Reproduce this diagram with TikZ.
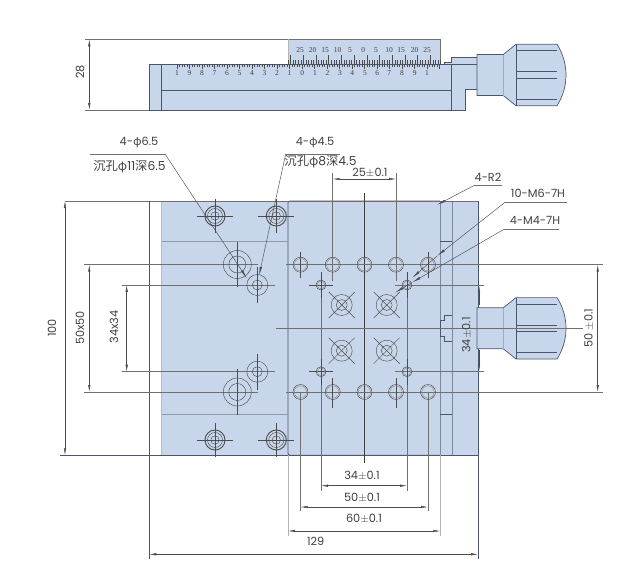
\documentclass[tikz,border=0pt]{standalone}
\usepackage{fontspec}
\setmainfont{Poppins}
\newfontfamily\cjk{Noto Sans CJK SC}
\newfontfamily\rulerfont{Liberation Serif}
\usepackage{xcolor}
\usepackage{tikz}
\usetikzlibrary{positioning,calc,arrows.meta}
\definecolor{platefill}{HTML}{C8D6EB}
\definecolor{edgeblue}{HTML}{4A566E}
\definecolor{dimgrey}{HTML}{6F6F6F}
\definecolor{labelgrey}{HTML}{404040}
\tikzset{
	plate/.style={fill=platefill, draw=edgeblue, line width=0.7pt},
	edge/.style={draw=edgeblue, line width=0.7pt},
	thin edge/.style={draw=edgeblue, line width=0.45pt},
	extline/.style={draw=dimgrey, line width=0.6pt},
	centreline/.style={draw=black!75, line width=0.5pt},
	holeline/.style={draw=black!70, line width=0.45pt},
	dimline/.style={draw=black!70, line width=0.45pt, {Latex[length=7pt,width=2.4pt]}-{Latex[length=7pt,width=2.4pt]}},
	leader/.style={draw=black!70, line width=0.45pt, -{Latex[length=9pt,width=2.4pt]}},
	shoulder/.style={draw=dimgrey, line width=0.6pt},
	dimtext/.style={text=labelgrey, font=\fontsize{11.3}{13}\selectfont, inner sep=0pt},
	cjktext/.style={text=labelgrey, font=\fontsize{12.3}{14}\selectfont, inner sep=0pt},
	rulertext/.style={text=labelgrey, font=\rulerfont\fontsize{7.5}{8}\selectfont, inner sep=0pt},
	knob/.pic={
		\draw[plate] (477,-20.5) -- (503.3,-20.5) -- (516,-30.7) -- (557,-30.7)
			.. controls (569,-12) and (569,12) .. (557,30.7)
			-- (516,30.7) -- (503.3,20.5) -- (477,20.5) -- cycle;
		\draw[thin edge] (516,-30.7) -- (516,30.7);
		\draw[thin edge, draw=edgeblue!50] (503.3,-20.5) -- (503.3,20.5);
		\foreach \yk in {-24.4,-3.3,3.3,24.4} {
			\draw[thin edge] (516,\yk) -- (557,\yk);
		}
	},
}
\newcommand{\cbore}[1]{
	\draw[holeline] ($(#1)+(-18,0)$) -- ($(#1)+(18,0)$);
	\draw[holeline] ($(#1)+(0,-17)$) -- ($(#1)+(0,17)$);
	\draw[holeline, line width=0.9pt] (#1) circle (10);
	\draw[holeline] (#1) circle (7.5);
	\draw[holeline] (#1) circle (4.2);
}
\newcommand{\crosshole}[1]{
	\draw[holeline] ($(#1)+(-13,-13)$) -- ($(#1)+(13,13)$);
	\draw[holeline] ($(#1)+(-13,13)$) -- ($(#1)+(13,-13)$);
	\draw[holeline] (#1) circle (10.5);
	\draw[holeline] (#1) circle (5.5);
}
\begin{document}
\begin{tikzpicture}[x=1pt,y=-1pt]
	\useasboundingbox (0,0) rectangle (630,576);

	% side view
	\fill[platefill] (288,39.3) rectangle (440.7,64);
	\draw[extline] (85,39.3) -- (440.7,39.3) -- (440.7,64);
	\draw[extline, draw=dimgrey!50] (288,39.3) -- (288,64);
	\draw[plate] (149.3,64) rectangle (452,110);
	\draw[extline] (85,110) -- (149.3,110);
	\draw[edge] (161.7,64) -- (161.7,110);
	\draw[edge] (161.7,90.3) -- (452,90.3);
	\foreach \n in {0,...,60} {
		\pgfmathsetmacro{\xt}{288+\n*2.54}
		\pgfmathsetmacro{\lt}{ifthenelse(mod(\n,5)==1,9,4)}
		\draw[holeline, line width=0.3pt] (\xt,64) -- (\xt,64-\lt);
	}
	\foreach \n in {0,...,105} {
		\pgfmathsetmacro{\xt}{177+\n*2.5}
		\pgfmathsetmacro{\lt}{ifthenelse(mod(\n,5)==0,4.5,2.5)}
		\draw[holeline, line width=0.3pt] (\xt,64) -- (\xt,64+\lt);
	}
	\foreach \xl/\tl in {300/25,312.7/20,325/15,337.6/10,350/5,363.3/0,376/5,389/10,401/15,414.5/20,427/25} {
		\node[rulertext] at (\xl,50.5) {\tl};
	}
	\foreach \xl/\tl in {177/1,189.5/9,202/8,214.5/7,227/6,239.5/5,252/4,264.5/3,277/2,289.5/1,302.3/0,315/1,327.5/2,340/3,352.3/4,365/5,377.3/6,389.3/7,402/8,414.7/9,427/1} {
		\node[rulertext] at (\xl,73.5) {\tl};
	}
	\draw[plate] (444,64) -- (444,62.3) -- (451.7,62.3) -- (451.7,57.3) -- (477,57.3) -- (477,89) -- (465,89) -- (465,110) -- (451.7,110) -- (451.7,64) -- cycle;
	\draw[thin edge] (451.7,64.3) -- (477,64.3);
	\pic at (0,75) {knob};
	\node[dimtext, rotate=90] (depth) at (80,72) {28};
	\draw[dimline] (89.3,39.3) -- (89.3,110);

	% top view
	\fill[platefill] (161.7,201) rectangle (478,455.3);
	\draw[edge, draw=edgeblue!40] (161.7,201) -- (161.7,455.3);
	\draw[edge] (478,201) -- (478,455.3);
	\draw[edge, line width=0.9pt, rounded corners=2pt] (440,201) -- (288,201) -- (288,455.3) -- (440,455.3);
	\draw[edge, draw=edgeblue!70] (440,201) -- (440,455.3);
	\draw[edge, draw=edgeblue!70] (452.3,201) -- (452.3,455.3);
	\draw[thin edge, draw=edgeblue!60] (161.7,241.7) -- (288,241.7);
	\draw[thin edge, draw=edgeblue!60] (161.7,414.7) -- (288,414.7);
	\draw[thin edge] (440,241) -- (452.3,241);
	\draw[thin edge] (440,414.5) -- (452.3,414.5);
	\draw[thin edge] (452.3,315) -- (444,315) -- (444,320) -- (440,320) -- (440,336) -- (444,336) -- (444,341) -- (452.3,341);
	\pic at (0,328.3) {knob};

	% datum and extension lines
	\draw[extline] (65,201) -- (478,201);
	\draw[edge] (60,455.3) -- (478,455.3);
	\draw[edge] (149.3,201) -- (149.3,559);
	\draw[edge] (478,455.3) -- (478,559);
	\draw[centreline] (364.5,193) -- (364.5,463);
	\draw[extline, line width=0.45pt] (276,328.3) -- (583,328.3);
	\foreach \yl in {264.7,392} {
		\draw[extline] (84,\yl) -- (258,\yl);
		\draw[extline] (286,\yl) -- (603,\yl);
	}
	\foreach \yl in {285,371.7} {
		\draw[extline] (121.7,\yl) -- (275,\yl);
		\draw[extline] (395,\yl) -- (484,\yl);
		\draw[holeline] (309,\yl) -- (333,\yl);
	}
	\draw[extline] (300.5,392) -- (300.5,511);
	\draw[extline] (428,392) -- (428,511);
	\draw[extline] (321,275) -- (321,491);
	\draw[extline] (407,275) -- (407,491);
	\draw[extline] (332.7,173) -- (332.7,281);
	\draw[extline] (396,173) -- (396,281);
	\draw[extline, draw=black!30, line width=1pt] (288,455.3) -- (288,536);
	\draw[extline, draw=black!30, line width=1pt] (440.3,455.3) -- (440.3,536);
	\draw[holeline] (300.5,252) -- (300.5,278);
	\draw[holeline] (428,252) -- (428,278);
	\draw[holeline] (332.7,378) -- (332.7,408);
	\draw[holeline] (396,378) -- (396,408);

	% holes
	\foreach \xh in {215,276.3} {
		\foreach \yh in {216,440} {
			\cbore{\xh,\yh}
		}
	}
	\foreach \yh/\yv in {264.5/241.7,392/414.7} {
		\draw[holeline] (237.3,\yv) -- (237.3,\yh);
		\draw[holeline] (237.3,\yh) -- (237.3,{2*\yh-\yv});
		\draw[holeline] (237.3,\yh) circle (14);
		\draw[holeline] (237.3,\yh) circle (8.5);
	}
	\foreach \yh in {285,371.7} {
		\draw[holeline] (257.3,\yh) circle (10.5);
		\draw[holeline] (257.3,\yh) circle (5);
		\draw[holeline] (257.3,{\yh-18}) -- (257.3,{\yh+18});
	}
	\foreach \xh in {300.5,332.7,364.5,396,428} {
		\foreach \yh in {264.7,392} {
			\draw[holeline] (\xh,\yh) circle (7.5);
			\draw[holeline, draw=black!45] (\xh,\yh) circle (6.2);
		}
	}
	\foreach \xh in {321,407} {
		\foreach \yh in {285,371.7} {
			\draw[holeline] (\xh,\yh) circle (5);
			\draw[holeline, draw=black!45] (\xh,\yh) circle (3.8);
			\draw[holeline] (\xh,{\yh-13}) -- (\xh,{\yh+13});
		}
	}
	\foreach \xh in {341.7,386.7} {
		\foreach \yh in {305,350.7} {
			\crosshole{\xh,\yh}
		}
	}

	% dimension labels
	\node[dimtext, rotate=90] (height) at (52,328) {100};
	\node[dimtext, rotate=90] (outer) at (80,328) {50x50};
	\node[dimtext, rotate=90] (inner) at (114,327) {34x34};
	\draw[dimline] (65,201) -- (65,455.3);
	\draw[dimline] (89.3,264.7) -- (89.3,392);
	\draw[dimline] (126.7,285) -- (126.7,371.7);
	\node[dimtext] (pitch) at (370,173) {25$\pm$0.1};
	\draw[dimline] (332.7,179) -- (396,179);
	\node[dimtext, rotate=90] (tapright) at (466.7,335) {34$\pm$0.1};
	\draw[dimline, {Latex[length=7pt,width=2.4pt]}-] (479,285) -- (479,305);
	\draw[dimline, -{Latex[length=7pt,width=2.4pt]}] (479,350) -- (479,371.7);
	\node[dimtext, rotate=90] (stroke) at (589,328) {50 $\pm$0.1};
	\draw[dimline] (597.7,264.7) -- (597.7,392);
	\node[dimtext] (tapa) at (362,476) {34$\pm$0.1};
	\draw[dimline] (321,485.7) -- (407,485.7);
	\node[dimtext] (tapb) at (362,498) {50$\pm$0.1};
	\draw[dimline] (300.5,507) -- (428,507);
	\node[dimtext] (tapc) at (364,519) {60$\pm$0.1};
	\draw[dimline] (288,531) -- (440.3,531);
	\node[dimtext] (width) at (315.7,541.7) {129};
	\draw[dimline] (149.3,554.3) -- (478,554.3);

	% leaders
	\node[dimtext] (cbig) at (139,142) {4-{\cjk φ}6.5};
	\node[cjktext] (cbigb) at (129.5,166.7) {{\cjk 沉孔φ}11{\cjk 深}6.5};
	\coordinate (cbigk) at (165,154);
	\coordinate (cbigt) at (247,278.5);
	\draw[shoulder] (90,154) -- (cbigk);
	\draw[leader] (cbigk) -- (cbigt);
	\node[dimtext] (csmall) at (315,143) {4-{\cjk φ}4.5};
	\node[cjktext] (csmallb) at (320.5,161.5) {{\cjk 沉孔φ}8{\cjk 深}4.5};
	\coordinate (csmallk) at (285.7,154);
	\coordinate (csmallt) at (259,275.7);
	\draw[shoulder] (csmallk) -- (340,154);
	\draw[leader] (csmallk) -- (csmallt);
	\node[dimtext] (rtwo) at (488,177) {4-R2};
	\coordinate (rtwok) at (475,185);
	\coordinate (rtwot) at (436.7,205);
	\draw[shoulder] (rtwok) -- (501.7,185);
	\draw[leader] (rtwok) -- (rtwot);
	\node[dimtext] (msix) at (538,193) {10-M6-7H};
	\coordinate (msixk) at (505,202.3);
	\coordinate (msixt) at (437,256);
	\coordinate (msixe) at (412,278);
	\draw[shoulder] (msixk) -- (566.7,202.3);
	\draw[leader] (msixk) -- (msixt);
	\draw[leader] (msixt) -- (msixe);
	\node[dimtext] (mfour) at (535,220.7) {4-M4-7H};
	\coordinate (mfourk) at (504,229.3);
	\coordinate (mfourt) at (412,282.5);
	\coordinate (mfoure) at (395,292.7);
	\draw[shoulder] (mfourk) -- (559.3,229.3);
	\draw[leader] (mfourk) -- (mfourt);
	\draw[leader] (mfourt) -- (mfoure);
\end{tikzpicture}
\end{document}
